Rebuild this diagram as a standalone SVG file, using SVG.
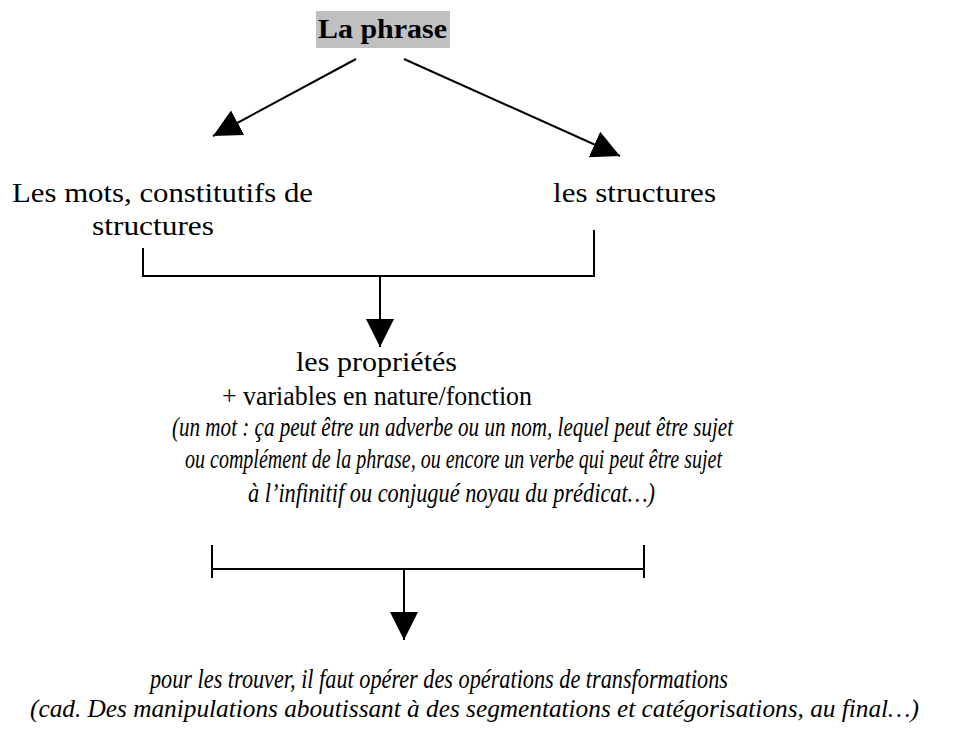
<svg xmlns="http://www.w3.org/2000/svg" width="954" height="737" viewBox="0 0 954 737">
<defs>
<style>
.t{font-family:"Liberation Serif","Times New Roman",serif;font-size:28px;fill:#000}
.b{font-weight:bold;font-size:27px}
.i{font-style:italic;font-size:28px}
.s{font-size:26px}
.c{fill:none;stroke:#000;stroke-width:2}
</style>
<marker id="ah" markerUnits="userSpaceOnUse" markerWidth="30" markerHeight="30" refX="28" refY="14" orient="auto" viewBox="0 0 30 30">
<path d="M0,0 L28,14 L0,28 z" fill="#000"/>
</marker>
</defs>
<rect width="954" height="737" fill="#fff"/>
<g id="connectors">
<line class="c" x1="356" y1="59" x2="213" y2="136" marker-end="url(#ah)"/>
<line class="c" x1="404" y1="59" x2="620" y2="156" marker-end="url(#ah)"/>
<path class="c" d="M143,248 V276 H594 V230"/>
<line class="c" x1="380" y1="276" x2="380" y2="347" marker-end="url(#ah)"/>
<path class="c" d="M212,569 H644 M212,545 V578 M644,545 V578"/>
<line class="c" x1="404" y1="569" x2="404" y2="640" marker-end="url(#ah)"/>
</g>
<g id="phrase">
<rect x="316" y="11" width="134" height="37" fill="#c0c0c0"/>
<text class="t b" x="318" y="38" textLength="129" lengthAdjust="spacingAndGlyphs">La phrase</text>
</g>
<g id="mots">
<text class="t" x="12" y="202" textLength="301" lengthAdjust="spacingAndGlyphs">Les mots, constitutifs de</text>
<text class="t" x="92" y="235" textLength="122" lengthAdjust="spacingAndGlyphs">structures</text>
</g>
<g id="structures">
<text class="t" x="553" y="202" textLength="163" lengthAdjust="spacingAndGlyphs">les structures</text>
</g>
<g id="proprietes">
<text class="t" x="296" y="371" textLength="161" lengthAdjust="spacingAndGlyphs">les propriétés</text>
<text class="t" x="222" y="405" textLength="310" lengthAdjust="spacingAndGlyphs">+ variables en nature/fonction</text>
<text class="t i" x="172" y="436" textLength="561" lengthAdjust="spacingAndGlyphs">(un mot : ça peut être un adverbe ou  un nom, lequel peut être sujet</text>
<text class="t i" x="185" y="468" textLength="537" lengthAdjust="spacingAndGlyphs">ou complément de la phrase, ou encore un verbe qui peut être sujet</text>
<text class="t i" x="248" y="502" textLength="407" lengthAdjust="spacingAndGlyphs">à l’infinitif  ou conjugué noyau du prédicat…)</text>
</g>
<g id="operations">
<text class="t i" x="150" y="688" textLength="578" lengthAdjust="spacingAndGlyphs">pour les trouver, il faut opérer des opérations de transformations</text>
<text class="t i s" x="30" y="717" textLength="889" lengthAdjust="spacingAndGlyphs">(cad. Des manipulations aboutissant à des segmentations et catégorisations, au final…)</text>
</g>
</svg>
